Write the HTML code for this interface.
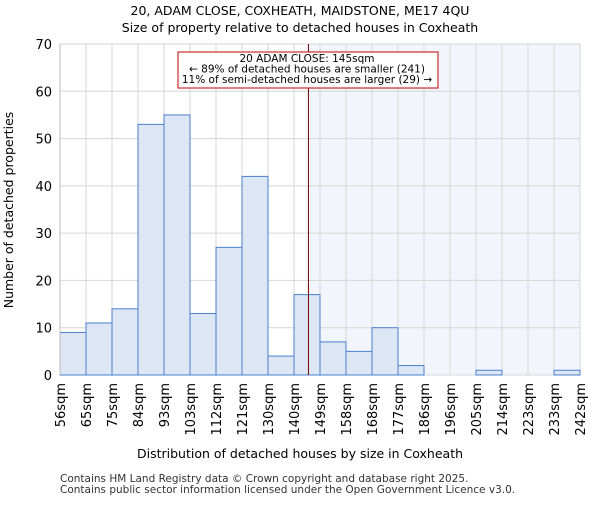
<!DOCTYPE html>
<html><head><meta charset="utf-8"><style>
body{margin:0;background:#fff;}
svg{font-family:"DejaVu Sans","Liberation Sans",sans-serif;}
</style></head><body>
<svg id="c" width="600" height="500">
<text x="300" y="15" text-anchor="middle" font-size="12.5">20, ADAM CLOSE, COXHEATH, MAIDSTONE, ME17 4QU</text>
<text x="300" y="32" text-anchor="middle" font-size="12.5">Size of property relative to detached houses in Coxheath</text>
<g id="plot"></g>
<text x="300" y="458" text-anchor="middle" font-size="12.5">Distribution of detached houses by size in Coxheath</text>
<text transform="translate(13,210) rotate(-90)" text-anchor="middle" font-size="12.5">Number of detached properties</text>
<text x="60" y="482" font-size="10.5" fill="#333">Contains HM Land Registry data © Crown copyright and database right 2025.</text>
<text x="60" y="493" font-size="10.5" fill="#333">Contains public sector information licensed under the Open Government Licence v3.0.</text>
</svg>
<script>
const binLabels=["56sqm","65sqm","75sqm","84sqm","93sqm","103sqm","112sqm","121sqm","130sqm","140sqm","149sqm","158sqm","168sqm","177sqm","186sqm","196sqm","205sqm","214sqm","223sqm","233sqm","242sqm"];
const counts=[9,11,14,53,55,13,27,42,4,17,7,5,10,2,0,0,1,0,0,1];
const yTicks=[0,10,20,30,40,50,60,70];
const markerBin=9+5/9;
const NS="http://www.w3.org/2000/svg";
const L=60,R=580,T=44,B=375,yMax=70;
const n=counts.length,bw=(R-L)/n;
const xs=i=>L+i*bw;
const ys=v=>B-(v/yMax)*(B-T);
const g=document.getElementById('plot');
function mk(t,a){const e=document.createElementNS(NS,t);for(const k in a)e.setAttribute(k,a[k]);g.appendChild(e);return e;}
const mx=xs(markerBin);
let e=mk('rect',{x:mx,y:T,width:R-mx,height:B-T,fill:'#f3f5fc'});


for(let i=0;i<=n;i++){e=mk('line',{x1:xs(i),x2:xs(i),y1:T,y2:B,stroke:'#d6d6d6','stroke-width':1});

}
yTicks.forEach(v=>{e=mk('line',{x1:L,x2:R,y1:ys(v),y2:ys(v),stroke:'#d6d6d6','stroke-width':1});


e=mk('text',{x:L-8,y:ys(v)+5,'text-anchor':'end','font-size':13});e.textContent=v;

});
counts.forEach((c,i)=>{if(c<=0)return;e=mk('rect',{x:xs(i),y:ys(c),width:bw,height:B-ys(c),fill:'#dce6f4',stroke:'#4a7fcf','stroke-width':1});

});
binLabels.forEach((s,i)=>{e=mk('text',{transform:`translate(${xs(i)+5},${B+8}) rotate(-90)`,'text-anchor':'end','font-size':13});e.textContent=s;

});
e=mk('line',{x1:L,x2:L,y1:T,y2:B,stroke:'#bbb'});


e=mk('line',{x1:mx,x2:mx,y1:T,y2:B,stroke:'#700000','stroke-width':1});


e=mk('rect',{x:178,y:52,width:260,height:36,fill:'#fff',stroke:'#c00000','stroke-width':1});


["20 ADAM CLOSE: 145sqm","← 89% of detached houses are smaller (241)","11% of semi-detached houses are larger (29) →"].forEach((t,k)=>{
e=mk('text',{x:307,y:62+k*10.5,'text-anchor':'middle','font-size':10.5});e.textContent=t;

});
</script>
</body></html>
